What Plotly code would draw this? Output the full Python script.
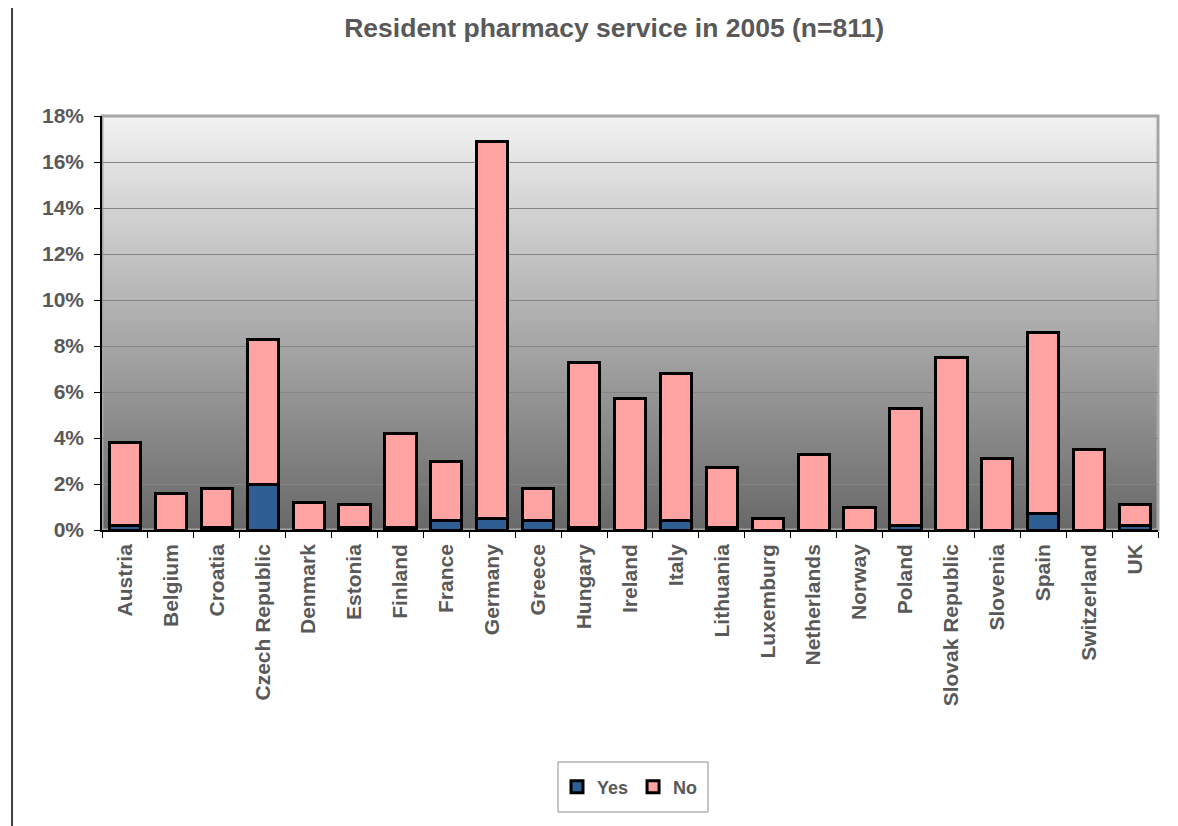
import plotly.graph_objects as go

countries = ["Austria", "Belgium", "Croatia", "Czech Republic", "Denmark", "Estonia",
             "Finland", "France", "Germany", "Greece", "Hungary", "Ireland", "Italy",
             "Lithuania", "Luxemburg", "Netherlands", "Norway", "Poland",
             "Slovak Republic", "Slovenia", "Spain", "Switzerland", "UK"]
yes_pct = [0.2, 0.0, 0.1, 2.0, 0.0, 0.1, 0.1, 0.4, 0.5, 0.4, 0.1, 0.0, 0.4,
           0.1, 0.0, 0.0, 0.0, 0.2, 0.0, 0.0, 0.7, 0.0, 0.2]
total_pct = [3.8, 1.6, 1.8, 8.3, 1.2, 1.1, 4.2, 3.0, 16.9, 1.8, 7.3, 5.7, 6.8,
             2.7, 0.5, 3.3, 1.0, 5.3, 7.5, 3.1, 8.6, 3.5, 1.1]
no_pct = [round(t - y, 2) for t, y in zip(total_pct, yes_pct)]
y_ticks = [0, 2, 4, 6, 8, 10, 12, 14, 16, 18]
y_labels = [f"{v}%" for v in y_ticks]

TXT = "#595959"
FONT = "Liberation Sans, Arial, sans-serif"

fig = go.Figure()
fig.add_trace(go.Bar(x=countries, y=[v / 100 for v in yes_pct], name="Yes",
                     marker=dict(color="#2e5f93", line=dict(color="black", width=3))))
fig.add_trace(go.Bar(x=countries, y=[v / 100 for v in no_pct], name="No",
                     marker=dict(color="#ffa3a3", line=dict(color="black", width=3))))

# vertical gradient background (light top -> dark bottom)
shapes = []
n = 120
top, bot = 242, 104
for i in range(n):
    f0 = i / n
    f1 = (i + 1) / n
    c = int(round(bot + (top - bot) * (f0 + f1) / 2))
    shapes.append(dict(type="rect", xref="x domain", yref="y domain",
                       x0=0, x1=1, y0=f0, y1=f1 + 0.002, layer="below",
                       line=dict(width=0), fillcolor=f"rgb({c},{c},{c})"))
# plot area border (gray, top/right visible)
shapes.append(dict(type="rect", xref="x domain", yref="y domain", x0=0, x1=1, y0=0, y1=1,
                   layer="below", line=dict(color="#a6a6a6", width=3), fillcolor="rgba(0,0,0,0)"))
# outer chart left border
shapes.append(dict(type="line", xref="paper", yref="paper", x0=-0.0852, x1=-0.0852,
                   y0=-0.72, y1=1.3, line=dict(color="#404040", width=2)))
# legend box
shapes.append(dict(type="rect", xref="paper", yref="paper",
                   x0=(558 - 102) / 1056, x1=(708 - 102) / 1056,
                   y0=(530 - 812) / 414, y1=(530 - 762) / 414,
                   line=dict(color="#8c8c8c", width=1), fillcolor="white"))

fig.update_layout(
    width=1170, height=818,
    margin=dict(l=94, r=20, t=108, b=296),
    paper_bgcolor="white", plot_bgcolor="rgba(0,0,0,0)",
    barmode="stack", bargap=0.32,
    shapes=shapes,
    title=dict(text="<b>Resident pharmacy service in 2005 (n=811)</b>",
               xref="paper", x=0.485, xanchor="center",
               yref="container", y=1 - 20 / 818, yanchor="middle",
               font=dict(family=FONT, size=26.5, color=TXT)),
    font=dict(family=FONT, color=TXT),
    legend=dict(orientation="h", x=0.5, xanchor="center", y=-0.621, yanchor="middle",
                bgcolor="rgba(0,0,0,0)", borderwidth=0,
                font=dict(family=FONT, size=18, color=TXT, weight="bold"),
                itemwidth=30, traceorder="normal"),
    showlegend=True,
)
fig.update_xaxes(showline=True, linecolor="black", linewidth=1.5,
                 ticks="outside", ticklen=6, tickcolor="black", tickson="boundaries",
                 tickangle=-90, showgrid=False, ticklabelstandoff=4,
                 tickfont=dict(family=FONT, size=21, color=TXT, weight="bold"))
fig.update_yaxes(range=[0, 0.18], tickvals=[v / 100 for v in y_ticks], ticktext=y_labels,
                 showline=True, linecolor="black", linewidth=1.5,
                 ticks="outside", ticklen=6, tickcolor="black", ticklabelstandoff=6,
                 showgrid=True, gridcolor="#858585", gridwidth=1, zeroline=False,
                 tickfont=dict(family=FONT, size=21, color=TXT, weight="bold"))

fig.write_html("out.html")
